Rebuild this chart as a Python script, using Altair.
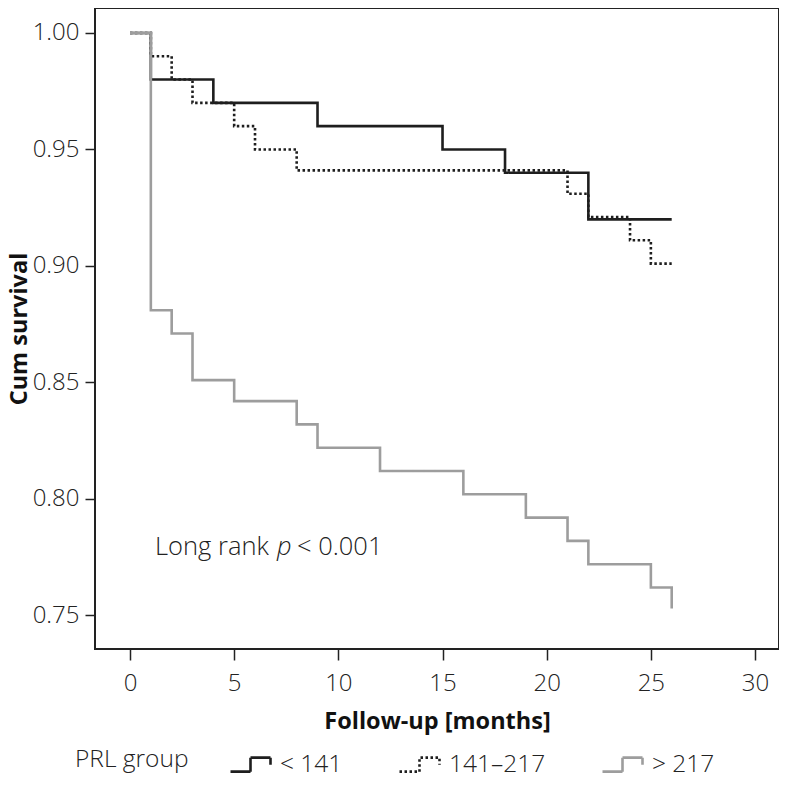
import altair as alt
import pandas as pd

# Kaplan-Meier step data
groups = ["< 141", "141–217", "> 217"]
t_low = [0, 1, 4, 9, 15, 18, 22, 26]
s_low = [1.0, 0.980, 0.970, 0.960, 0.950, 0.940, 0.920, 0.920]
t_mid = [0, 1, 2, 3, 5, 6, 8, 21, 22, 24, 25, 26]
s_mid = [1.0, 0.990, 0.980, 0.970, 0.960, 0.950, 0.941, 0.931, 0.921, 0.911, 0.901, 0.901]
t_high = [0, 1, 2, 3, 5, 8, 9, 12, 16, 19, 21, 22, 25, 26]
s_high = [1.0, 0.881, 0.871, 0.851, 0.842, 0.832, 0.822, 0.812, 0.802, 0.792, 0.782, 0.772, 0.762, 0.753]
x_ticks = [0, 5, 10, 15, 20, 25, 30]
y_ticks = [0.75, 0.80, 0.85, 0.90, 0.95, 1.00]
annotation = "Long rank"

rows = []
for g, ts, ss in zip(groups, [t_low, t_mid, t_high], [s_low, s_mid, s_high]):
    for i, (t, s) in enumerate(zip(ts, ss)):
        rows.append({"group": g, "t": t, "s": s, "i": i})
df = pd.DataFrame(rows)

FONT = "Open Sans"
colors = ["#1e1e1e", "#1e1e1e", "#9d9d9d"]
dashes = [[1, 0], [2.5, 2.5], [1, 0]]

x_scale = alt.Scale(domain=[-1.68, 31.15], nice=False, zero=False)
y_scale = alt.Scale(domain=[0.7356, 1.0107], nice=False, zero=False)

step_path = "M-1,0.35L0,0.35L0,-0.35L1,-0.35L1,0"

lines = alt.Chart(df).mark_line(interpolate="step-after", strokeWidth=2.6).encode(
    x=alt.X("t:Q", scale=x_scale,
            axis=alt.Axis(values=x_ticks, title="Follow-up [months]", grid=False,
                          domain=False, tickSize=11, tickWidth=1.5, tickColor="#222",
                          labelPadding=11, titlePadding=14)),
    y=alt.Y("s:Q", scale=y_scale,
            axis=alt.Axis(values=y_ticks, format=".2f", title="Cum survival", grid=False,
                          domain=False, tickSize=10, tickWidth=1.5, tickColor="#222",
                          labelPadding=6, titlePadding=1)),
    color=alt.Color("group:N", scale=alt.Scale(domain=groups, range=colors),
                    legend=alt.Legend(title="PRL group", orient="none", direction="horizontal",
                                      titleOrient="left", titleAnchor="middle",
                                      titleBaseline="middle", legendX=-20, legendY=735,
                                      symbolType=step_path, symbolSize=1600,
                                      symbolStrokeWidth=2.6, symbolFillColor="transparent",
                                      columnPadding=51, titlePadding=40,
                                      labelFont=FONT, labelFontSize=24.5, labelFontWeight=300,
                                      labelColor="#222", titleFont=FONT, titleFontSize=24.5,
                                      titleFontWeight=300, titleColor="#222", labelOffset=8)),
    strokeDash=alt.StrokeDash("group:N", scale=alt.Scale(domain=groups, range=dashes)),
    order=alt.Order("i:Q"),
)

ann_df = pd.DataFrame({"t": [1.2], "s": [0.7794]})
ann1 = alt.Chart(ann_df).mark_text(align="left", baseline="middle", font=FONT,
                                    fontSize=25.5, fontWeight=300, color="#222").encode(
    x=alt.X("t:Q", scale=x_scale), y=alt.Y("s:Q", scale=y_scale), text=alt.value(annotation))
ann2 = alt.Chart(ann_df).mark_text(align="left", baseline="middle", font=FONT, dx=122,
                                    fontSize=25.5, fontWeight=300, fontStyle="italic",
                                    color="#222").encode(
    x=alt.X("t:Q", scale=x_scale), y=alt.Y("s:Q", scale=y_scale), text=alt.value("p"))
ann3 = alt.Chart(ann_df).mark_text(align="left", baseline="middle", font=FONT, dx=142,
                                    fontSize=25.5, fontWeight=300, color="#222").encode(
    x=alt.X("t:Q", scale=x_scale), y=alt.Y("s:Q", scale=y_scale), text=alt.value("< 0.001"))

chart = alt.layer(lines, ann1, ann2, ann3).properties(
    width=684, height=641,
    autosize=alt.AutoSizeParams(type="none"),
    padding={"left": 87, "top": 0, "right": 0, "bottom": 130},
).configure_view(stroke="#222", strokeWidth=2).configure_axis(
    labelFont=FONT, labelFontSize=24, labelFontWeight=300, labelColor="#222",
    titleFont=FONT, titleFontSize=23.5, titleFontWeight="bold", titleColor="#111",
)

chart.save("out.html", embed_options={"renderer": "svg", "actions": False})
